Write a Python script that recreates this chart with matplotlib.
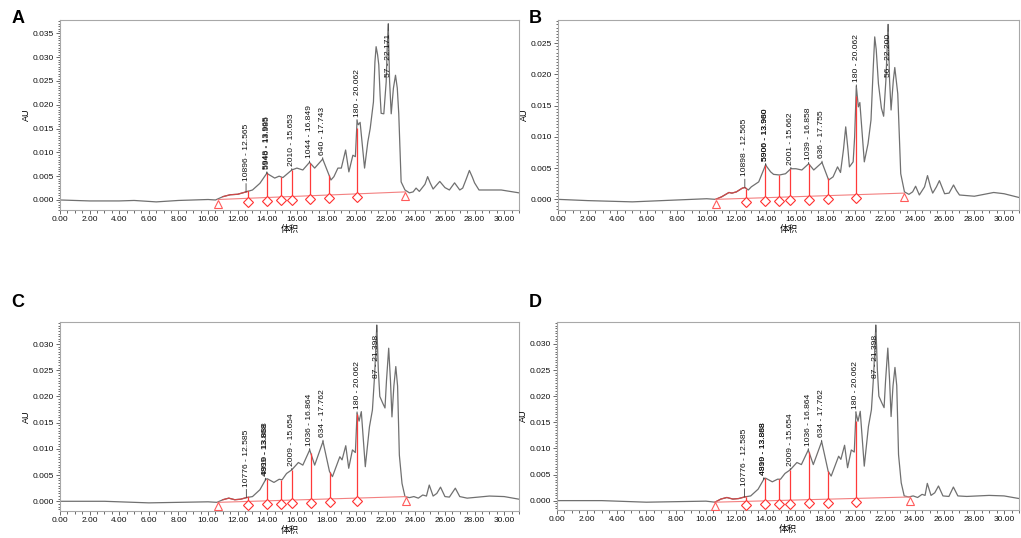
import numpy as np
import matplotlib
matplotlib.use("Agg")
import matplotlib.pyplot as plt
from matplotlib.ticker import MultipleLocator, FormatStrFormatter

plt.rcParams["font.family"] = ["Liberation Sans", "Noto Sans CJK SC", "DejaVu Sans"]

# ---- panel A ----
a_x = [0, 2, 4, 5, 6.5, 8, 10, 10.5, 11.0, 11.5, 12.0, 12.565, 13.0, 13.5, 13.965,
       14.5, 14.8, 15.05, 15.653, 16.0, 16.4, 16.849, 17.2, 17.743, 18.3, 18.5, 18.77,
       19.0, 19.29, 19.51, 19.78, 19.95, 20.062, 20.15, 20.27, 20.57, 20.79, 20.95, 21.17,
       21.27, 21.35, 21.45, 21.53, 21.62, 21.69, 21.87, 22.03, 22.1, 22.171, 22.26, 22.37,
       22.52, 22.66, 22.78, 22.88, 23.04, 23.3, 23.6, 23.85, 24.05, 24.27, 24.65, 24.83,
       25.0, 25.2, 25.65, 26.0, 26.3, 26.65, 27.0, 27.2, 27.45, 27.65, 27.85, 28.0, 28.3,
       29.0, 29.8, 31.0]
a_y = [0.0, -0.0002, -0.0002, -0.0001, -0.0004, -0.0001, 0.0001, 0.0, 0.0007, 0.0011,
       0.0012, 0.0017, 0.0021, 0.0035, 0.0056, 0.0046, 0.0050, 0.0047, 0.0063, 0.0067,
       0.0063, 0.0079, 0.0067, 0.0086, 0.0042, 0.0049, 0.0067, 0.0067, 0.0105, 0.0059,
       0.0094, 0.0091, 0.0166, 0.0158, 0.0163, 0.0067, 0.0122, 0.0150, 0.0206, 0.0290,
       0.0322, 0.0305, 0.0284, 0.0220, 0.0182, 0.0181, 0.0248, 0.0320, 0.0370, 0.0250,
       0.0181, 0.0235, 0.0262, 0.0235, 0.0181, 0.0038, 0.0021, 0.0015, 0.0017, 0.0025,
       0.0018, 0.0033, 0.0049, 0.0036, 0.0023, 0.0039, 0.0026, 0.0021, 0.0036, 0.0021,
       0.0025, 0.0045, 0.0062, 0.0048, 0.0036, 0.0021, 0.0021, 0.0021, 0.0015]
a_drops = [12.7, 13.98, 14.9, 15.66, 16.9, 18.18, 20.04]
a_base_x = [10.67, 23.33]
a_base_y = [0.0001, 0.0017]
a_labels = ["10896 - 12.565", "5948 - 13.965", "5940 - 13.985", "2010 - 15.653",
            "1044 - 16.849", "640 - 17.743", "180 - 20.062", "57 - 22.171"]

# ---- panel B ----
b_x = [0, 2, 5, 8, 10, 10.6, 11.0, 11.5, 11.7, 12.0, 12.4, 12.565, 12.8, 13.0, 13.5,
       13.96, 14.3, 14.5, 14.9, 15.3, 15.662, 16.0, 16.4, 16.858, 17.2, 17.755, 18.2,
       18.5, 18.8, 19.0, 19.2, 19.35, 19.5, 19.6, 19.85, 19.95, 20.062, 20.2, 20.3,
       20.6, 20.85, 21.05, 21.2, 21.3, 21.4, 21.55, 21.75, 21.9, 22.05, 22.2, 22.3,
       22.4, 22.55, 22.65, 22.85, 23.05, 23.3, 23.6, 23.85, 24.05, 24.3, 24.65, 24.85,
       25.05, 25.2, 25.45, 25.65, 25.85, 26.0, 26.3, 26.6, 26.8, 27.0, 28.0, 29.3,
       30.0, 31.0]
b_y = [0.0, -0.0002, -0.0004, -0.0001, 0.0001, 0.0, 0.0004, 0.0011, 0.0010, 0.0012,
       0.0018, 0.0019, 0.0015, 0.0020, 0.0028, 0.0055, 0.0044, 0.0040, 0.0039, 0.0041,
       0.0049, 0.0049, 0.0047, 0.0057, 0.0047, 0.0059, 0.0031, 0.0036, 0.0052, 0.0043,
       0.0080, 0.0116, 0.0080, 0.0052, 0.0060, 0.0100, 0.0181, 0.0148, 0.0155, 0.0060,
       0.0089, 0.0127, 0.0210, 0.0260, 0.0240, 0.0185, 0.0146, 0.0133, 0.0190, 0.0280,
       0.0190, 0.0143, 0.0190, 0.0211, 0.0169, 0.0041, 0.0012, 0.0008, 0.0012, 0.0021,
       0.0007, 0.0020, 0.0038, 0.0020, 0.0010, 0.0020, 0.0030, 0.0018, 0.0009, 0.0010,
       0.0023, 0.0014, 0.0007, 0.0005, 0.0011, 0.0009, 0.0003]
b_drops = [12.67, 13.95, 14.87, 15.63, 16.88, 18.16, 20.04]
b_base_x = [10.6, 23.27]
b_base_y = [0.0, 0.0010]
b_labels = ["10898 - 12.565", "5906 - 13.960", "5900 - 13.980", "2001 - 15.662",
            "1039 - 16.858", "636 - 17.755", "180 - 20.062", "56 - 22.200"]

# ---- panel C ----
c_x = [0, 3, 6, 8, 10, 10.6, 11.0, 11.4, 11.8, 12.2, 12.585, 13.0, 13.5, 13.9, 14.0,
       14.45, 14.8, 15.0, 15.3, 15.654, 16.1, 16.4, 16.864, 17.2, 17.762, 18.2, 18.4,
       18.9, 19.05, 19.3, 19.5, 19.75, 19.95, 20.062, 20.2, 20.35, 20.62, 20.9, 21.1,
       21.25, 21.398, 21.5, 21.6, 21.8, 21.95, 22.05, 22.2, 22.32, 22.42, 22.55, 22.68,
       22.8, 22.92, 23.1, 23.3, 23.6, 23.9, 24.2, 24.5, 24.75, 24.94, 25.2, 25.45,
       25.7, 26.0, 26.3, 26.7, 27.0, 27.5, 29.0, 30.0, 31.0]
c_y = [0.0, 0.0, -0.0003, -0.0002, -0.0001, -0.0002, 0.0003, 0.0006, 0.0003, 0.0004,
       0.0007, 0.0009, 0.0022, 0.0042, 0.0043, 0.0036, 0.0042, 0.0041, 0.0053, 0.0060,
       0.0074, 0.0069, 0.0098, 0.0069, 0.0114, 0.0057, 0.0047, 0.0085, 0.0079, 0.0106,
       0.0063, 0.0098, 0.0093, 0.0168, 0.0153, 0.0171, 0.0066, 0.0142, 0.0174, 0.0241,
       0.0336, 0.0250, 0.0200, 0.0187, 0.0178, 0.0230, 0.0292, 0.0230, 0.0161, 0.0220,
       0.0257, 0.0220, 0.0088, 0.0034, 0.0009, 0.0007, 0.0009, 0.0006, 0.0012, 0.0010,
       0.0031, 0.0010, 0.0015, 0.0027, 0.0009, 0.0008, 0.0025, 0.0009, 0.0006, 0.0010,
       0.0009, 0.0004]
c_drops = [12.72, 14.0, 14.9, 15.67, 16.93, 18.21, 20.06]
c_base_x = [10.67, 23.4]
c_base_y = [-0.0002, 0.0009]
c_labels = ["10776 - 12.585", "4899 - 13.868", "4910 - 13.888", "2009 - 15.654",
            "1036 - 16.864", "634 - 17.762", "180 - 20.062", "87 - 21.398"]

# ---- panel D ----
d_x = [0, 3, 6, 8, 10, 10.6, 11.0, 11.4, 11.8, 12.2, 12.585, 13.0, 13.5, 13.9, 14.0,
       14.45, 14.8, 15.0, 15.3, 15.654, 16.1, 16.4, 16.864, 17.2, 17.762, 18.2, 18.4,
       18.9, 19.05, 19.3, 19.5, 19.75, 19.95, 20.062, 20.2, 20.35, 20.62, 20.9, 21.1,
       21.25, 21.398, 21.5, 21.6, 21.8, 21.95, 22.05, 22.2, 22.32, 22.42, 22.55, 22.68,
       22.8, 22.92, 23.1, 23.3, 23.6, 23.9, 24.2, 24.5, 24.7, 24.85, 25.1, 25.35,
       25.6, 25.9, 26.3, 26.6, 26.9, 27.5, 29.0, 30.0, 31.0]
d_y = [0.0, 0.0, -0.0003, -0.0002, -0.0001, -0.0003, 0.0003, 0.0006, 0.0003, 0.0004,
       0.0007, 0.0009, 0.0022, 0.0042, 0.0043, 0.0036, 0.0041, 0.0041, 0.0052, 0.0059,
       0.0073, 0.0069, 0.0097, 0.0069, 0.0113, 0.0056, 0.0047, 0.0085, 0.0079, 0.0106,
       0.0063, 0.0097, 0.0093, 0.0168, 0.0152, 0.0171, 0.0066, 0.0142, 0.0174, 0.0241,
       0.0336, 0.0250, 0.0200, 0.0187, 0.0178, 0.0230, 0.0292, 0.0230, 0.0161, 0.0220,
       0.0255, 0.0220, 0.0088, 0.0034, 0.0009, 0.0007, 0.0009, 0.0006, 0.0012, 0.0010,
       0.0033, 0.0010, 0.0015, 0.0028, 0.0009, 0.0008, 0.0026, 0.0009, 0.0008, 0.0010,
       0.0009, 0.0004]
d_drops = [12.71, 13.99, 14.91, 15.67, 16.91, 18.19, 20.04]
d_base_x = [10.6, 23.7]
d_base_y = [-0.0003, 0.0007]
d_labels = ["10776 - 12.585", "4899 - 13.868", "4910 - 13.888", "2009 - 15.654",
            "1036 - 16.864", "634 - 17.762", "180 - 20.062", "87 - 21.398"]


def draw_panel(ax, xs, ys, drops, base_x, base_y, labels, ylim):
    xs = np.array(xs)
    ys = np.array(ys)
    span = ylim[1] - ylim[0]
    ax.plot(xs, ys, color="#707070", lw=0.9, zorder=2)

    # integrated start section drawn in red
    m = (xs >= base_x[0]) & (xs <= drops[0])
    seg_x = np.concatenate([xs[m], [drops[0]]])
    seg_y = np.concatenate([ys[m], [np.interp(drops[0], xs, ys)]])
    ax.plot(seg_x, seg_y, color="#d04848", lw=0.9, zorder=3)

    ax.plot(base_x, base_y, color="#f38080", lw=0.8, zorder=3)
    ax.plot(base_x, np.array(base_y) - 0.022 * span, ls="none", marker="^", ms=5.5,
            mfc="none", mec="#ff5a5a", mew=0.8, zorder=4)

    bl = np.interp(drops, base_x, base_y)
    top = np.interp(drops, xs, ys)
    ax.vlines(drops, bl, top, color="#ff3a3a", lw=0.9, zorder=3)
    ax.plot(drops, bl - 0.018 * span, ls="none", marker="D", ms=5,
            mfc="white", mec="#ff3030", mew=0.8, zorder=4)

    for i, lab in enumerate(labels):
        lx = float(lab.split(" - ")[1])
        apex = np.interp(lx, xs, ys)
        if i == len(labels) - 1:
            off, va = -7, "top"
        elif i == 0:
            off, va = 8, "bottom"
        else:
            off, va = 3, "bottom"
        ax.annotate(lab, xy=(lx, apex), xytext=(0, off), textcoords="offset points",
                    rotation=90, ha="center", va=va, fontsize=6.1, color="#101010",
                    arrowprops=dict(arrowstyle="-", color="#404040", lw=0.6,
                                    shrinkA=0, shrinkB=0),
                    zorder=5)

    ax.set_xlim(0, 31)
    ax.set_ylim(*ylim)
    ax.xaxis.set_major_locator(MultipleLocator(2))
    ax.xaxis.set_minor_locator(MultipleLocator(0.5))
    ax.yaxis.set_major_locator(MultipleLocator(0.005))
    ax.yaxis.set_minor_locator(MultipleLocator(0.0005))
    ax.xaxis.set_major_formatter(FormatStrFormatter("%.2f"))
    ax.yaxis.set_major_formatter(FormatStrFormatter("%.3f"))
    ax.tick_params(which="both", direction="out", colors="#505050", labelcolor="#101010",
                   labelsize=6, width=0.6, pad=1.5)
    ax.tick_params(which="major", length=3)
    ax.tick_params(which="minor", length=1.8)
    for s in ax.spines.values():
        s.set_color("#a8a8a8")
        s.set_linewidth(0.8)
    ax.set_xlabel("体积", fontsize=6.5, labelpad=1)
    ax.set_ylabel("AU", fontsize=6.5, labelpad=1)


fig = plt.figure(figsize=(10.21, 5.38), dpi=100)
ax_a = fig.add_axes([0.0588, 0.6097, 0.4495, 0.3531])
ax_b = fig.add_axes([0.5465, 0.6097, 0.4515, 0.3531])
ax_c = fig.add_axes([0.0588, 0.0502, 0.4495, 0.3513])
ax_d = fig.add_axes([0.5455, 0.0520, 0.4525, 0.3495])

draw_panel(ax_a, a_x, a_y, a_drops, a_base_x, a_base_y, a_labels, (-0.0021, 0.0378))
draw_panel(ax_b, b_x, b_y, b_drops, b_base_x, b_base_y, b_labels, (-0.0017, 0.0287))
draw_panel(ax_c, c_x, c_y, c_drops, c_base_x, c_base_y, c_labels, (-0.00185, 0.0342))
draw_panel(ax_d, d_x, d_y, d_drops, d_base_x, d_base_y, d_labels, (-0.0018, 0.0342))

for letter, x, y in [("A", 0.011, 0.965), ("B", 0.518, 0.965),
                     ("C", 0.011, 0.437), ("D", 0.518, 0.437)]:
    fig.text(x, y, letter, fontsize=13, fontweight="bold", va="center", ha="left")

fig.savefig("out.png", dpi=100)
